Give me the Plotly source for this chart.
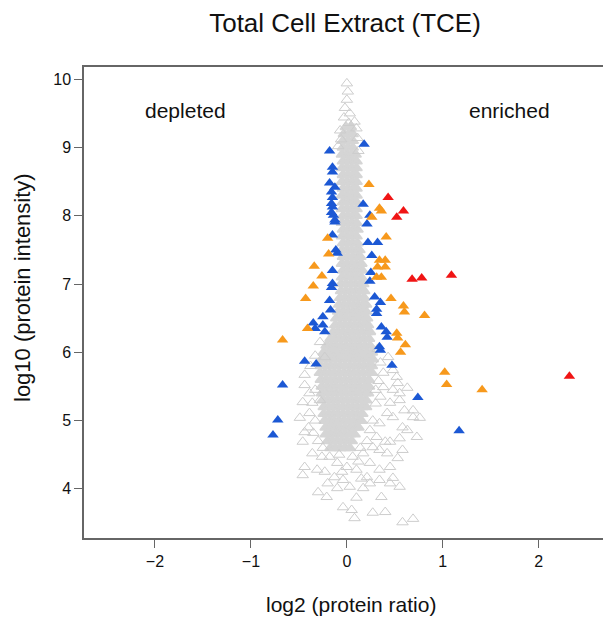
import plotly.graph_objects as go

# ---------------- data ----------------
x_tick_vals = [-2, -1, 0, 1, 2]
y_tick_vals = [4, 5, 6, 7, 8, 9, 10]

# dense core of unchanged proteins (grey), one row per intensity level
core_y_levels = [9.3, 9.2, 9.1, 9.0, 8.9, 8.8, 8.7, 8.6, 8.5, 8.4, 8.3, 8.2, 8.1, 8.0,
                 7.9, 7.8, 7.7, 7.6, 7.5, 7.4, 7.3, 7.2, 7.1, 7.0, 6.9, 6.8, 6.7, 6.6,
                 6.5, 6.4, 6.3, 6.2, 6.1, 6.0, 5.9, 5.8, 5.7, 5.6, 5.5, 5.4, 5.3, 5.2,
                 5.1, 5.0, 4.9, 4.8, 4.7, 4.6]
core_x_rows = [
    [-0.01, 0.04],
    [-0.03, 0.02, 0.06],
    [-0.04, 0.01, 0.06],
    [-0.04, 0.01, 0.06],
    [-0.05, 0.00, 0.05, 0.09],
    [-0.04, 0.01, 0.06, 0.10],
    [-0.05, 0.00, 0.05, 0.10],
    [-0.04, 0.01, 0.06, 0.10],
    [-0.05, 0.00, 0.05, 0.10],
    [-0.04, 0.01, 0.06, 0.10],
    [-0.05, 0.00, 0.05, 0.10],
    [-0.04, 0.01, 0.06, 0.10],
    [-0.05, 0.00, 0.05, 0.10],
    [-0.04, 0.01, 0.06, 0.10],
    [-0.05, 0.00, 0.05, 0.10],
    [-0.04, 0.01, 0.06, 0.11],
    [-0.05, 0.00, 0.05, 0.10],
    [-0.04, 0.01, 0.06, 0.11],
    [-0.05, 0.00, 0.05, 0.10, 0.13],
    [-0.04, 0.01, 0.06, 0.11, 0.14],
    [-0.05, 0.00, 0.05, 0.10, 0.15],
    [-0.04, 0.01, 0.06, 0.11, 0.16],
    [-0.05, 0.00, 0.05, 0.10, 0.15],
    [-0.06, -0.01, 0.04, 0.09, 0.14, 0.17],
    [-0.06, -0.01, 0.04, 0.09, 0.14, 0.18],
    [-0.07, -0.02, 0.03, 0.08, 0.13, 0.18],
    [-0.08, -0.03, 0.02, 0.07, 0.12, 0.17, 0.20],
    [-0.09, -0.04, 0.01, 0.06, 0.11, 0.16, 0.20],
    [-0.11, -0.06, -0.01, 0.04, 0.09, 0.14, 0.19, 0.21],
    [-0.12, -0.07, -0.02, 0.03, 0.08, 0.13, 0.18, 0.22],
    [-0.14, -0.09, -0.04, 0.01, 0.06, 0.11, 0.16, 0.21, 0.24],
    [-0.17, -0.12, -0.07, -0.02, 0.03, 0.08, 0.13, 0.18, 0.23],
    [-0.21, -0.16, -0.11, -0.06, -0.01, 0.04, 0.09, 0.14, 0.19, 0.24],
    [-0.24, -0.19, -0.14, -0.09, -0.04, 0.01, 0.06, 0.11, 0.16, 0.21, 0.26],
    [-0.26, -0.21, -0.16, -0.11, -0.06, -0.01, 0.04, 0.09, 0.14, 0.19, 0.24, 0.27],
    [-0.27, -0.22, -0.17, -0.12, -0.07, -0.02, 0.03, 0.08, 0.13, 0.18, 0.23, 0.26],
    [-0.28, -0.23, -0.18, -0.13, -0.08, -0.03, 0.02, 0.07, 0.12, 0.17, 0.22, 0.26],
    [-0.27, -0.22, -0.17, -0.12, -0.07, -0.02, 0.03, 0.08, 0.13, 0.18, 0.23],
    [-0.26, -0.21, -0.16, -0.11, -0.06, -0.01, 0.04, 0.09, 0.14, 0.19, 0.23],
    [-0.26, -0.21, -0.16, -0.11, -0.06, -0.01, 0.04, 0.09, 0.14, 0.19, 0.22],
    [-0.25, -0.20, -0.15, -0.10, -0.05, 0.00, 0.05, 0.10, 0.15, 0.20],
    [-0.24, -0.19, -0.14, -0.09, -0.04, 0.01, 0.06, 0.11, 0.16, 0.20],
    [-0.24, -0.19, -0.14, -0.09, -0.04, 0.01, 0.06, 0.11, 0.16],
    [-0.23, -0.18, -0.13, -0.08, -0.03, 0.02, 0.07, 0.12, 0.15],
    [-0.22, -0.17, -0.12, -0.07, -0.02, 0.03, 0.08, 0.12],
    [-0.22, -0.17, -0.12, -0.07, -0.02, 0.03, 0.08],
    [-0.20, -0.15, -0.10, -0.05, 0.00, 0.05],
    [-0.17, -0.12, -0.07, -0.02, 0.03],
]

# scattered grey proteins (open triangles)
gray_open_x = [0.00, 0.01, 0.00, -0.02, 0.03, -0.03, 0.08, 0.10, -0.07, 0.02, -0.06, 0.11, -0.09, 0.12,
               -0.44, -0.44, -0.46, -0.36, -0.28, -0.49, -0.39, -0.44, -0.35, -0.46, -0.36, -0.26,
               -0.44, -0.31, -0.46, -0.23, -0.13, -0.04, -0.20, -0.30, -0.21, -0.10, 0.03, 0.17,
               0.24, 0.34, 0.45, 0.55, 0.36, 0.10, -0.04, 0.05, 0.08, 0.27, 0.40, 0.58, 0.69,
               0.52, 0.55, 0.60, 0.69, 0.76, 0.63, 0.73, 0.55, 0.45, 0.58, 0.42, 0.53, 0.45, 0.34,
               0.24, 0.48, 0.40, 0.34,
               0.10, 0.00, 0.21, -0.10, -0.18, 0.06, 0.17, 0.27, 0.31, 0.24, 0.34, 0.42, 0.45,
               0.48, 0.38, 0.38,
               -0.39, 0.48, 0.53, 0.63, 0.55, 0.69, 0.58, 0.48, -0.28, -0.23, 0.43,
               0.30, 0.27, 0.21, 0.14, 0.35, 0.30, 0.33, -0.33, -0.30, -0.40, -0.33, -0.38, -0.33,
               0.35, 0.32, -0.08, -0.25, 0.12, -0.05, 0.15]
gray_open_y = [9.94, 9.82, 9.70, 9.58, 9.50, 9.44, 9.38, 9.28, 9.25, 9.36, 9.12, 9.14, 9.02, 8.95,
               5.67, 5.52, 5.27, 5.26, 5.30, 5.04, 5.11, 4.83, 4.82, 4.69, 4.52, 4.47,
               4.32, 4.28, 4.20, 4.25, 4.17, 4.13, 4.08, 3.95, 3.88, 4.01, 4.03, 4.01,
               4.08, 4.13, 4.08, 4.03, 3.88, 3.87, 3.73, 3.69, 3.57, 3.65, 3.66, 3.51, 3.56,
               5.64, 5.40, 5.15, 5.15, 5.04, 4.86, 4.76, 4.74, 4.69, 4.57, 4.52, 4.45, 4.32, 4.28,
               4.38, 4.16, 4.69, 4.57,
               4.28, 4.32, 4.17, 4.38, 4.47, 4.47, 4.52, 4.61, 4.76, 4.86, 4.96, 5.11, 5.26,
               5.45, 5.49, 5.70,
               5.40, 5.74, 5.55, 5.48, 5.30, 5.05, 4.90, 5.05, 6.15, 5.93, 5.93,
               5.25, 5.00, 4.70, 4.60, 5.35, 5.45, 5.58, 5.00, 4.70, 4.90, 5.45, 5.80, 5.95,
               5.85, 6.05, 4.50, 4.60, 4.40, 4.25, 4.15]

# significantly changed proteins
blue_x = [-0.18, 0.18, -0.15, -0.15, -0.18, -0.125, -0.16, -0.15, -0.16, -0.15, -0.16, -0.14,
          -0.125, -0.125, -0.15, -0.115, -0.10, -0.15, -0.15, -0.16, -0.18, -0.17, -0.25, -0.35,
          -0.25, -0.33, -0.23, -0.44, -0.32, -0.67, -0.72, -0.77,
          0.17, 0.24, 0.21, 0.22, 0.32, 0.26, 0.25, 0.24, 0.29, 0.35, 0.31, 0.31, 0.36, 0.41,
          0.42, 0.34, 0.35, 0.47, 0.74, 1.17]
blue_y = [8.95, 9.05, 8.71, 8.64, 8.48, 8.42, 8.35, 8.27, 8.18, 8.13, 8.05, 8.01,
          7.94, 7.91, 7.72, 7.50, 7.45, 7.20, 7.01, 6.95, 6.76, 6.62, 6.52, 6.43,
          6.40, 6.35, 6.30, 5.87, 5.83, 5.52, 5.01, 4.79,
          8.17, 8.01, 7.88, 7.61, 7.61, 7.42, 7.17, 7.04, 6.81, 6.73, 6.63, 6.57, 6.37, 6.30,
          6.22, 6.08, 6.03, 5.81, 5.34, 4.85]

orange_x = [0.23, 0.34, 0.36, 0.26, 0.41, -0.20, -0.19, -0.34, -0.26, -0.35, -0.43, -0.41,
            -0.67, 0.34, 0.40, 0.32, 0.40, 0.31, 0.36, 0.46, 0.59, 0.60, 0.81, 0.52, 0.53,
            0.61, 0.56, 1.02, 1.04, 1.41]
orange_y = [8.46, 8.11, 8.07, 7.98, 7.69, 7.67, 7.44, 7.26, 7.12, 6.97, 6.79, 6.35,
            6.18, 7.35, 7.35, 7.25, 7.25, 7.10, 7.10, 6.79, 6.68, 6.59, 6.54, 6.28, 6.21,
            6.11, 6.00, 5.71, 5.53, 5.45]

red_x = [0.43, 0.59, 0.52, 0.68, 0.78, 1.09, 2.32]
red_y = [8.27, 8.07, 7.98, 7.07, 7.09, 7.13, 5.65]

# ---------------- figure ----------------
core_x = [x for row in core_x_rows for x in row]
core_y = [lvl for lvl, row in zip(core_y_levels, core_x_rows) for _ in row]

FONT = "Liberation Sans, Arial, Helvetica, sans-serif"
GREY = "#d5d5d5"

fig = go.Figure()
fig.add_trace(go.Scatter(x=core_x, y=core_y, mode="markers", hoverinfo="skip",
                         marker=dict(symbol="triangle-up", size=10, color=GREY,
                                     line=dict(width=1.6, color=GREY))))
fig.add_trace(go.Scatter(x=gray_open_x, y=gray_open_y, mode="markers", hoverinfo="skip",
                         marker=dict(symbol="triangle-up-open", size=10, color="#cdcdcd",
                                     line=dict(width=1))))
fig.add_trace(go.Scatter(x=blue_x, y=blue_y, mode="markers",
                         marker=dict(symbol="triangle-up", size=10, color="#1c58d4",
                                     line=dict(width=0))))
fig.add_trace(go.Scatter(x=orange_x, y=orange_y, mode="markers",
                         marker=dict(symbol="triangle-up", size=10, color="#f7991c",
                                     line=dict(width=0))))
fig.add_trace(go.Scatter(x=red_x, y=red_y, mode="markers",
                         marker=dict(symbol="triangle-up", size=10, color="#f01414",
                                     line=dict(width=0))))

L, R, T, B = 84, 0, 67, 83
W, H = 603, 621
pw, ph = W - L - R, H - T - B

fig.update_layout(
    width=W, height=H,
    margin=dict(l=L, r=R, t=T, b=B, pad=0),
    paper_bgcolor="white", plot_bgcolor="white",
    showlegend=False,
    font=dict(family=FONT, color="#111111"),
    title=dict(text="Total Cell Extract (TCE)", x=(345 - L) / pw, xref="paper",
               xanchor="center", y=1 - 23 / H, yref="container", yanchor="middle",
               font=dict(size=26, family=FONT, color="#111111")),
)
fig.update_xaxes(range=[-2.74, 2.67], tickvals=x_tick_vals, ticks="outside", ticklen=8,
                 tickwidth=1, tickcolor="#666666", showline=True, linecolor="#666666",
                 linewidth=1.5, mirror=True, showgrid=False, zeroline=False,
                 tickfont=dict(size=16, family=FONT, color="#111111"))
fig.update_yaxes(range=[3.28, 10.18], tickvals=y_tick_vals, ticks="outside", ticklen=8,
                 tickwidth=1, tickcolor="#666666", showline=True, linecolor="#666666",
                 linewidth=1.5, mirror=False, showgrid=False, zeroline=False,
                 tickfont=dict(size=16, family=FONT, color="#111111"))

fig.add_annotation(text="log2 (protein ratio)", xref="paper", yref="paper",
                   x=(351 - L) / pw, y=(H - B - 604) / ph, showarrow=False,
                   xanchor="center", yanchor="middle", font=dict(size=21, family=FONT))
fig.add_annotation(text="log10 (protein intensity)", xref="paper", yref="paper",
                   x=(22 - L) / pw, y=(H - B - 288) / ph, showarrow=False, textangle=-90,
                   xanchor="center", yanchor="middle", font=dict(size=22, family=FONT))
fig.add_annotation(text="depleted", x=-1.68, y=9.55, showarrow=False,
                   xanchor="center", yanchor="middle", font=dict(size=21, family=FONT))
fig.add_annotation(text="enriched", x=1.70, y=9.55, showarrow=False,
                   xanchor="center", yanchor="middle", font=dict(size=21, family=FONT))

fig.write_html("out.html")
